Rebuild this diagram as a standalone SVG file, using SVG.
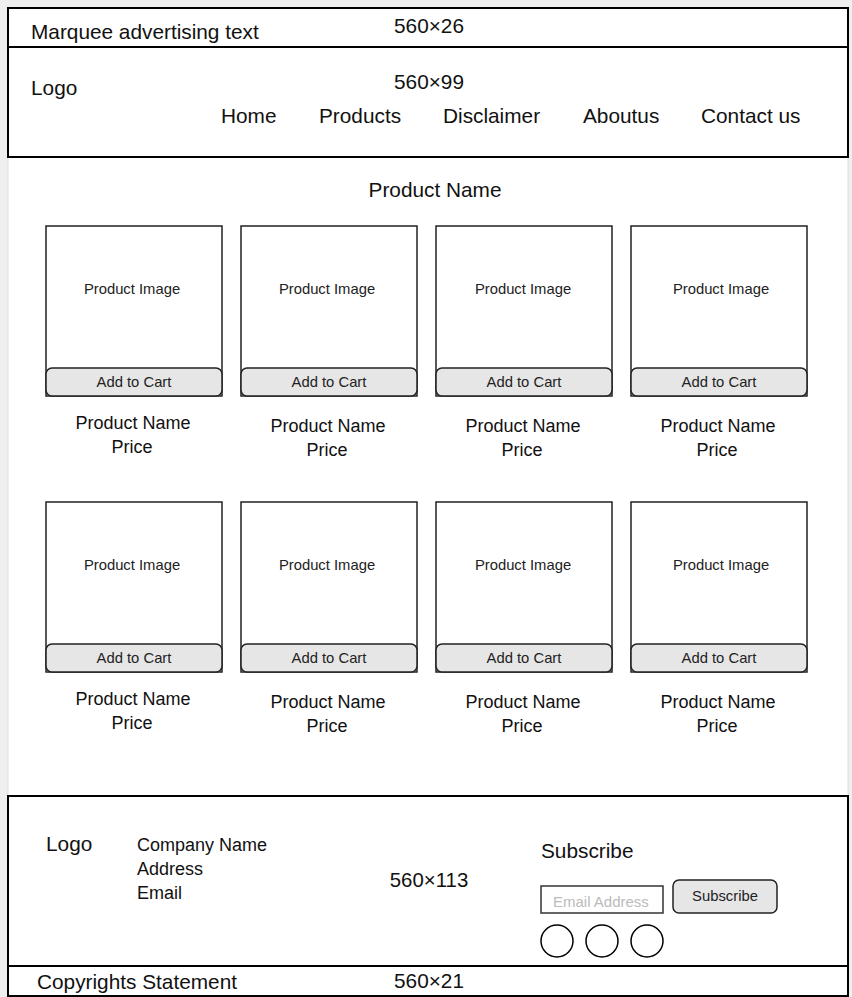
<svg xmlns="http://www.w3.org/2000/svg" width="852" height="997" viewBox="0 0 852 997">
<style>
text{font-family:"Liberation Sans",Arial,sans-serif;fill:#111}
.box{fill:#fff;stroke:#000;stroke-width:2}
.card{fill:#fff;stroke:#222;stroke-width:1.5}
.btn{fill:#e6e6e6;stroke:#222;stroke-width:1.5}
.big{font-size:20.8px}
.mid{font-size:18px}
.sm{font-size:14.8px;text-anchor:middle;fill:#222}
.btnt{font-size:14.8px;text-anchor:middle;fill:#222}
.c{text-anchor:middle}
</style>
<rect x="0" y="0" width="852" height="997" fill="#efefef"/>
<rect id="content" x="8" y="157" width="840" height="639" fill="#fff" stroke="#ddd" stroke-width="1"/>
<g id="marquee">
<rect class="box" x="8" y="8" width="840" height="39"/>
<text class="big" x="31" y="39">Marquee advertising text</text>
<text class="big c" x="429" y="33">560×26</text>
</g>
<g id="header">
<rect class="box" x="8" y="47" width="840" height="110"/>
<text class="big" x="31" y="95">Logo</text>
<text class="big c" x="429" y="89">560×99</text>
<text class="big" x="221" y="123">Home</text>
<text class="big" x="319" y="123">Products</text>
<text class="big" x="443" y="123">Disclaimer</text>
<text class="big" x="583" y="123">Aboutus</text>
<text class="big" x="701" y="123">Contact us</text>
</g>
<text class="c" x="435" y="197" font-size="20.8px">Product Name</text>
<defs>
<g id="cardt">
<rect class="card" x="0" y="0" width="176" height="170"/>
<rect class="btn" x="0" y="142" width="176" height="28" rx="6"/>
<text class="btnt" x="88" y="161">Add to Cart</text>
</g>
</defs>
<g id="card1"><use href="#cardt" x="46" y="226"/><text class="sm" x="132" y="294">Product Image</text><text class="mid c" x="133" y="429">Product Name</text><text class="mid c" x="132" y="453">Price</text></g>
<g id="card2"><use href="#cardt" x="241" y="226"/><text class="sm" x="327" y="294">Product Image</text><text class="mid c" x="328" y="432">Product Name</text><text class="mid c" x="327" y="456">Price</text></g>
<g id="card3"><use href="#cardt" x="436" y="226"/><text class="sm" x="523" y="294">Product Image</text><text class="mid c" x="523" y="432">Product Name</text><text class="mid c" x="522" y="456">Price</text></g>
<g id="card4"><use href="#cardt" x="631" y="226"/><text class="sm" x="721" y="294">Product Image</text><text class="mid c" x="718" y="432">Product Name</text><text class="mid c" x="717" y="456">Price</text></g>
<g id="card5"><use href="#cardt" x="46" y="502"/><text class="sm" x="132" y="570">Product Image</text><text class="mid c" x="133" y="705">Product Name</text><text class="mid c" x="132" y="729">Price</text></g>
<g id="card6"><use href="#cardt" x="241" y="502"/><text class="sm" x="327" y="570">Product Image</text><text class="mid c" x="328" y="708">Product Name</text><text class="mid c" x="327" y="732">Price</text></g>
<g id="card7"><use href="#cardt" x="436" y="502"/><text class="sm" x="523" y="570">Product Image</text><text class="mid c" x="523" y="708">Product Name</text><text class="mid c" x="522" y="732">Price</text></g>
<g id="card8"><use href="#cardt" x="631" y="502"/><text class="sm" x="721" y="570">Product Image</text><text class="mid c" x="718" y="708">Product Name</text><text class="mid c" x="717" y="732">Price</text></g>
<g id="footer">
<rect class="box" x="8" y="796" width="840" height="170"/>
<text class="big" x="46" y="851">Logo</text>
<text class="mid" x="137" y="851">Company Name</text>
<text class="mid" x="137" y="875">Address</text>
<text class="mid" x="137" y="899">Email</text>
<text class="c" x="429" y="887" font-size="20.4px">560×113</text>
<text class="big" x="541" y="858">Subscribe</text>
<rect x="541" y="886" width="122" height="27" fill="#fff" stroke="#333" stroke-width="1.5"/>
<text x="553" y="907" font-size="15px" style="fill:#bbb">Email Address</text>
<rect class="btn" x="673" y="880" width="104" height="33" rx="6"/>
<text class="btnt" x="725" y="901">Subscribe</text>
<circle cx="557" cy="941" r="16" fill="#fff" stroke="#000" stroke-width="1.5"/>
<circle cx="602" cy="941" r="16" fill="#fff" stroke="#000" stroke-width="1.5"/>
<circle cx="647" cy="941" r="16" fill="#fff" stroke="#000" stroke-width="1.5"/>
</g>
<g id="copyright">
<rect class="box" x="8" y="966" width="840" height="30"/>
<text class="big" x="37" y="989">Copyrights Statement</text>
<text class="big c" x="429" y="988">560×21</text>
</g>
<g id="connectors"/>
</svg>
